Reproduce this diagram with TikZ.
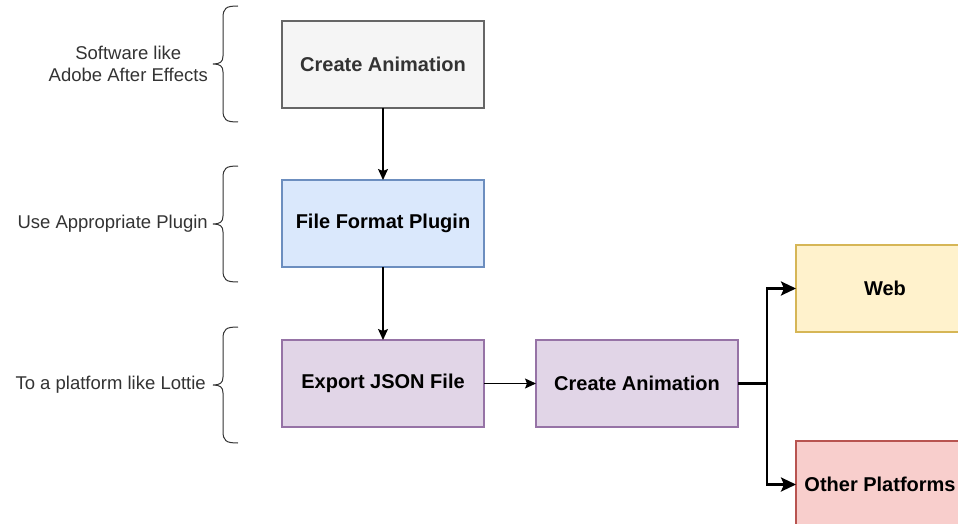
\documentclass[tikz,border=0pt]{standalone}
\usepackage{fontspec}
\setmainfont{Liberation Sans}
\usepackage{xcolor}
\usetikzlibrary{positioning, arrows.meta}

\definecolor{greyfill}{HTML}{F5F5F5}
\definecolor{greydraw}{HTML}{666666}
\definecolor{bluefill}{HTML}{DAE8FC}
\definecolor{bluedraw}{HTML}{6C8EBF}
\definecolor{purplefill}{HTML}{E1D5E7}
\definecolor{purpledraw}{HTML}{9673A6}
\definecolor{yellowfill}{HTML}{FFF2CC}
\definecolor{yellowdraw}{HTML}{D6B656}
\definecolor{redfill}{HTML}{F8CECC}
\definecolor{reddraw}{HTML}{B85450}
\definecolor{labelgrey}{HTML}{333333}

\tikzset{
	box/.style = {draw, line width=1.2pt, minimum width=202pt, minimum height=87pt,
		inner sep=0pt, outer sep=0pt, font=\fontsize{20}{24}\selectfont\bfseries},
	sidelabel/.style = {align=center, inner sep=0pt, text=labelgrey,
		font=\fontsize{18.5}{22}\selectfont},
	flow/.style = {line width=1.2pt, -{Stealth[length=11pt, width=10pt, inset=2pt]}},
	fork/.style = {line width=2.6pt, -{Stealth[length=15pt, width=14pt, inset=3pt]}},
	curly/.pic = {
		\draw[line width=1pt, labelgrey]
			(25,-58) .. controls (13,-58) and (10,-56) .. (10,-46) -- (10,-8)
			.. controls (10,-2) and (7,0) .. (0,0)
			.. controls (7,0) and (10,2) .. (10,8) -- (10,46)
			.. controls (10,56) and (13,58) .. (25,58);
	}
}

\begin{document}
\begin{tikzpicture}[x=1pt, y=-1pt, node distance=0pt]
	\useasboundingbox (0,0) rectangle (958,524);
	\clip (0,0) rectangle (958,524);

	% main column
	\node (ca)  [box, fill=greyfill, draw=greydraw, text=labelgrey] at (383,64.5) {Create Animation};
	\node (ffp) [box, fill=bluefill, draw=bluedraw, below=72pt of ca]      {File Format Plugin};
	\node (ej)  [box, fill=purplefill, draw=purpledraw, below=73pt of ffp] {Export JSON File};
	\node (ca2) [box, fill=purplefill, draw=purpledraw, right=52pt of ej]  {Create Animation};
	%
	\node (web)   [box, fill=yellowfill, draw=yellowdraw, minimum width=178pt] at (885,288.5) {Web};
	\node (other) [box, fill=redfill, draw=reddraw, minimum width=168pt] at (880,484.5) {Other Platforms};

	% braces on the left
	\coordinate (b1) at (213,64);
	\coordinate (b2) at (213,224);
	\coordinate (b3) at (213,385);
	\pic at (b1) {curly};
	\pic at (b2) {curly};
	\pic at (b3) {curly};
	%
	\node (l1) [sidelabel, left=5pt of b1] {Software like\\Adobe After Effects};
	\node (l2) [sidelabel, left=5pt of b2] {Use Appropriate Plugin};
	\node (l3) [sidelabel, left=7pt of b3] {To a platform like Lottie};

	% connectors
	\draw[flow] (ca) -- (ffp);
	\draw[flow] (ffp) -- (ej);
	\draw[flow] (ej) -- (ca2);
	\draw[fork] (ca2.east) -- ++(29,0) coordinate (split) |- (web.west);
	\draw[fork] (split) |- (other.west);
\end{tikzpicture}
\end{document}
